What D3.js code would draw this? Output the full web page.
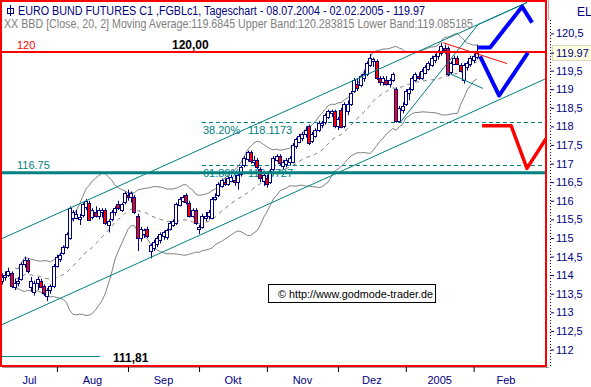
<!DOCTYPE html>
<html>
<head>
<meta charset="utf-8">
<script src="https://cdn.jsdelivr.net/npm/d3@7"></script>
<style>
  body { margin: 0; background: #fff; }
  svg { display: block; font-family: "Liberation Sans", Arial, sans-serif; }
</style>
</head>
<body>
<script>
// daily bars [open, high, low, close], 08.07.2004 - 02.02.2005
const bars = [
  [113.85,114.05,113.75,113.95],[113.95,114.1,113.85,114.0],[114.0,114.2,113.95,114.1],[114.05,114.1,113.65,113.7],
  [113.7,113.9,113.6,113.8],[113.8,113.95,113.7,113.85],[113.9,114.35,113.85,114.3],[114.3,114.5,114.2,114.4],
  [114.4,114.45,114.05,114.1],[113.7,113.95,113.55,113.85],[113.55,113.85,113.45,113.8],[113.8,113.95,113.6,113.9],
  [113.85,113.9,113.65,113.7],[113.7,113.75,113.45,113.5],[113.45,113.65,113.3,113.6],[113.6,113.75,113.5,113.7],
  [113.7,114.3,113.65,114.25],
  // Aug
  [114.25,114.55,114.2,114.5],[114.45,114.6,114.35,114.55],[114.6,114.8,114.55,114.75],[114.75,115.15,114.7,115.1],
  [115.0,115.85,114.95,115.8],[115.55,115.75,115.45,115.7],[115.55,115.75,115.5,115.65],[115.5,115.65,115.35,115.55],
  [115.6,115.95,115.55,115.9],[115.85,116.05,115.75,116.0],[115.95,116.0,115.45,115.5],[115.55,115.8,115.5,115.75],
  [115.7,115.85,115.55,115.6],[115.6,115.8,115.5,115.75],[115.7,115.8,115.55,115.75],[115.75,115.8,115.35,115.4],
  [115.35,115.5,115.15,115.45],[115.5,115.75,115.45,115.7],[115.7,115.85,115.6,115.8],[115.9,116.0,115.75,115.8],
  [115.75,115.95,115.7,115.9],[115.95,116.25,115.9,116.2],
  // Sep
  [116.15,116.3,116.0,116.1],[116.1,116.25,115.95,116.2],[116.1,116.15,115.65,115.7],[115.6,115.65,114.65,115.0],
  [115.0,115.3,114.9,115.25],[115.1,115.25,115.0,115.2],[115.25,115.3,115.0,115.05],[114.65,114.85,114.45,114.8],
  [114.75,114.95,114.65,114.9],[114.85,115.05,114.75,115.0],[114.95,115.15,114.85,115.1],[115.05,115.2,114.95,115.15],
  [115.0,115.25,114.95,115.2],[115.25,115.45,115.2,115.4],[115.35,115.5,115.3,115.45],[115.4,115.95,115.35,115.9],
  [115.9,116.1,115.85,116.05],[116.0,116.15,115.95,116.1],[116.15,116.2,115.9,115.95],[115.95,116.0,115.55,115.6],
  [115.6,115.8,115.55,115.75],[115.75,115.8,115.35,115.4],
  // Okt
  [115.25,115.35,115.1,115.3],[115.3,115.65,115.25,115.6],[115.55,115.7,115.45,115.6],[115.6,115.75,115.5,115.7],
  [115.55,116.1,115.5,116.05],[116.05,116.2,116.0,116.1],[116.15,116.5,116.1,116.45],[116.4,116.6,116.35,116.55],
  [116.5,116.6,116.4,116.45],[116.45,116.65,116.4,116.6],[116.55,116.7,116.5,116.65],[116.55,116.7,116.4,116.5],
  [116.5,116.75,116.3,116.7],[116.7,116.95,116.65,116.9],[116.95,117.2,116.9,117.15],[117.1,117.35,117.05,117.3],
  [117.3,117.35,117.0,117.05],[117.05,117.2,116.95,117.1],[117.1,117.15,116.85,116.9],[116.85,116.9,116.5,116.6],
  [116.55,116.75,116.4,116.7],
  // Nov
  [116.6,116.7,116.35,116.45],[116.5,116.85,116.45,116.8],[116.85,117.2,116.8,117.15],[117.1,117.25,117.05,117.2],
  [117.2,117.25,116.95,117.0],[116.95,117.1,116.85,117.05],[117.0,117.15,116.9,117.1],[117.05,117.2,116.95,117.15],
  [117.05,117.55,117.0,117.5],[117.45,117.7,117.4,117.65],[117.6,117.8,117.55,117.75],[117.7,117.85,117.6,117.8],
  [117.8,118.0,117.7,117.9],[118.0,118.05,117.5,117.55],[117.6,117.85,117.55,117.8],[117.75,117.95,117.7,117.9],
  [117.9,118.15,117.85,118.1],[118.05,118.15,117.95,118.1],[118.1,118.35,118.05,118.3],[118.25,118.45,118.2,118.4],
  [118.35,118.45,118.25,118.4],[118.4,118.45,117.95,118.0],
  // Dez
  [118.0,118.25,117.9,118.2],[118.45,118.5,117.95,118.0],[118.0,118.65,117.95,118.6],[118.4,118.7,118.3,118.6],
  [118.6,118.95,118.55,118.9],[118.95,119.3,118.9,119.25],[119.15,119.3,118.95,119.05],[119.1,119.4,119.05,119.35],
  [119.3,119.5,119.2,119.4],[119.4,119.75,119.35,119.7],[119.65,119.95,119.6,119.85],[119.75,119.85,119.6,119.8],
  [119.75,119.8,119.25,119.3],[119.3,119.35,119.1,119.2],[119.2,119.35,119.1,119.3],[119.25,119.35,119.1,119.15],
  [119.15,119.3,119.05,119.25],[119.25,119.45,119.2,119.4],[119.0,119.05,118.1,118.15],[118.15,118.55,118.1,118.5],
  [118.45,118.65,118.35,118.55],
  // Jan 2005
  [118.6,119.0,118.55,118.95],[118.9,119.05,118.7,119.0],[119.0,119.35,118.95,119.3],[119.25,119.45,119.2,119.4],
  [119.35,119.45,119.25,119.3],[119.3,119.55,119.25,119.5],[119.45,119.65,119.4,119.6],[119.55,119.75,119.5,119.7],
  [119.65,119.9,119.6,119.85],[119.8,119.95,119.7,119.9],[119.9,120.05,119.8,120.0],[119.95,120.25,119.9,120.15],
  [120.1,120.2,119.95,120.05],[120.1,120.15,119.35,119.4],[119.45,119.75,119.4,119.7],[119.7,119.9,119.65,119.85],
  [119.85,119.9,119.65,119.7],[119.65,119.7,119.45,119.5],[119.25,119.7,119.15,119.65],[119.6,119.75,119.5,119.7],
  [119.7,119.9,119.6,119.85],
  // Feb
  [119.8,119.95,119.7,119.9],[119.85,120.2,119.8,119.97]
];

const months = ["Jul", "Aug", "Sep", "Okt", "Nov", "Dez", "2005", "Feb"];
const monthStart = [0, 17, 39, 61, 82, 104, 125, 146, 166]; // bar index of first trading day (last = Mar)
const priceTicks = d3.range(112, 120.51, 0.5).filter(v => v !== 120);
const lastClose = 119.97;

// drawn studies, [bar index, price]
const channelUpper = [[-0.6, 114.96], [162.5, 121.33]];
const channelLower = [[-0.6, 112.645], [168.4, 119.285]];
const steepLine = [[123.2, 118.10], [147.4, 120.74], [162.5, 121.33]];
const flagLine = [[137.8, 119.45], [148.9, 119.02]];
const redTrend = [[136.5, 120.25], [156.3, 119.69]];
const blueUp = [[147.4, 120.12], [151.1, 120.12], [161.0, 121.22], [164.1, 120.79]];
const blueV = [[148.0, 119.88], [153.9, 118.83], [162.8, 119.98]];
const redArrow = [[148.6, 118.02], [157.6, 118.02], [162.5, 116.87], [168.4, 117.67]];
const fibLevels = [{ pct: "38.20%", value: 118.1173 }, { pct: "61.80%", value: 116.9727 }];
const fibStart = 61.9;
const resistance = 120, support = 116.75, lowLevel = 111.81, lowLineEnd = 30.3;

const W = 591, H = 387;
const navy = "#000080", teal = "#008080", red = "#ff0000", gray = "#808080";

const svg = d3.select("body").append("svg").attr("width", W).attr("height", H);

const x = d3.scaleLinear().domain([0, 168.4]).range([2, 546]);
const y = d3.scaleLinear().domain([112, 120]).range([349.5, 52]);

svg.append("defs").append("clipPath").attr("id", "plot")
  .append("rect").attr("x", 2).attr("y", 2).attr("width", 544).attr("height", 364);

const plot = svg.append("g").attr("clip-path", "url(#plot)");

// Bollinger bands 20,2
const closes = bars.map(b => b[3]);
const bb = [];
closes.forEach((c, i) => {
  if (i < 4) return;
  const w = closes.slice(Math.max(0, i - 19), i + 1);
  const m = d3.mean(w);
  const s = Math.sqrt(d3.mean(w, v => (v - m) * (v - m)));
  bb.push({ i: i, m: m, u: m + 2 * s, l: m - 2 * s });
});
const bandLine = key => d3.line().x(d => x(d.i)).y(d => y(d[key]));
plot.append("path").datum(bb).attr("d", bandLine("u")).attr("fill", "none").attr("stroke", gray);
plot.append("path").datum(bb).attr("d", bandLine("l")).attr("fill", "none").attr("stroke", gray);
plot.append("path").datum(bb).attr("d", bandLine("m")).attr("fill", "none").attr("stroke", gray)
  .attr("stroke-dasharray", "4,4");

// fibonacci levels
fibLevels.forEach(f => {
  plot.append("line")
    .attr("x1", x(fibStart)).attr("x2", 546)
    .attr("y1", Math.round(y(f.value)) + 0.5).attr("y2", Math.round(y(f.value)) + 0.5)
    .attr("stroke", teal).attr("stroke-dasharray", "4,3");
  plot.append("text").attr("x", x(fibStart) + 1).attr("y", y(f.value) + 12)
    .attr("fill", teal).style("font-size", "11px").text(f.pct);
  plot.append("text").attr("x", x(fibStart) + 46).attr("y", y(f.value) + 12)
    .attr("fill", teal).style("font-size", "11px").text(f.value.toFixed(4));
});

// candles
const candle = plot.append("g").selectAll("g").data(bars).join("g")
  .attr("transform", (d, i) => "translate(" + Math.round(x(i)) + ",0)");
candle.append("line")
  .attr("x1", 0.5).attr("x2", 0.5)
  .attr("y1", d => y(d[1])).attr("y2", d => y(d[2]))
  .attr("stroke", navy);
candle.append("rect")
  .attr("x", -1.5).attr("width", 3)
  .attr("y", d => Math.round(y(Math.max(d[0], d[3]))) + 0.5)
  .attr("height", d => Math.max(1, Math.round(Math.abs(y(d[0]) - y(d[3])))))
  .attr("fill", d => d[3] >= d[0] ? "#fff" : red)
  .attr("stroke", navy);

// trend lines
const pl = d3.line().x(d => x(d[0])).y(d => y(d[1]));
[channelUpper, channelLower, steepLine, flagLine].forEach(l => {
  plot.append("path").datum(l).attr("d", pl).attr("fill", "none").attr("stroke", teal);
});
plot.append("path").datum(redTrend).attr("d", pl).attr("fill", "none").attr("stroke", red);

// horizontal levels
plot.append("line").attr("x1", 0).attr("x2", 546).attr("y1", y(resistance)).attr("y2", y(resistance))
  .attr("stroke", red).attr("stroke-width", 2);
plot.append("line").attr("x1", 0).attr("x2", 546).attr("y1", y(support)).attr("y2", y(support))
  .attr("stroke", teal).attr("stroke-width", 3);
plot.append("line").attr("x1", 0).attr("x2", x(lowLineEnd)).attr("y1", y(lowLevel)).attr("y2", y(lowLevel))
  .attr("stroke", teal);

// scenario arrows
[blueUp, blueV].forEach(l => {
  plot.append("path").datum(l).attr("d", pl).attr("fill", "none").attr("stroke", "#0000ff")
    .attr("stroke-width", 4).attr("stroke-linejoin", "round");
});
plot.append("path").datum(redArrow).attr("d", pl).attr("fill", "none").attr("stroke", red)
  .attr("stroke-width", 3.5).attr("stroke-linejoin", "round");

// level labels
plot.append("text").attr("x", 17).attr("y", y(resistance) - 3).attr("fill", red)
  .style("font-size", "11px").text("120");
plot.append("text").attr("x", 172).attr("y", y(resistance) - 3).attr("fill", "#000")
  .style("font-size", "12px").style("font-weight", "bold").text("120,00");
plot.append("text").attr("x", 17).attr("y", y(support) - 4).attr("fill", teal)
  .style("font-size", "11px").text("116.75");
plot.append("text").attr("x", 113).attr("y", 362).attr("fill", "#000")
  .style("font-size", "12px").style("font-weight", "bold").text("111,81");

// copyright box
plot.append("rect").attr("x", 268.5).attr("y", 284.5).attr("width", 167).attr("height", 18)
  .attr("fill", "#fff").attr("stroke", "#000");
plot.append("text").attr("x", 278).attr("y", 298).attr("fill", "#000").style("font-size", "11px")
  .attr("textLength", 155).attr("lengthAdjust", "spacingAndGlyphs")
  .text("\u00a9 http://www.godmode-trader.de");

// header
const icon = svg.append("g").attr("stroke", navy).attr("fill", "none");
icon.append("rect").attr("x", 7.5).attr("y", 8.5).attr("width", 6).attr("height", 5);
icon.append("line").attr("x1", 10.5).attr("x2", 10.5).attr("y1", 5).attr("y2", 16);
svg.append("text").attr("x", 18).attr("y", 15).attr("fill", navy).style("font-size", "12px")
  .attr("textLength", 407).attr("lengthAdjust", "spacingAndGlyphs")
  .text("EURO BUND FUTURES C1 ,FGBLc1, Tageschart - 08.07.2004 - 02.02.2005 - 119.97");
svg.append("text").attr("x", 4).attr("y", 28).attr("fill", gray).style("font-size", "12px")
  .attr("textLength", 469).attr("lengthAdjust", "spacingAndGlyphs")
  .text("XX BBD [Close, 20, 2] Moving Average:119.6845 Upper Band:120.283815 Lower Band:119.085185");

// frame
svg.append("line").attr("x1", 2).attr("x2", 549).attr("y1", 367.5).attr("y2", 367.5).attr("stroke", "#a0a0a0");
svg.append("rect").attr("x", 1).attr("y", 1).attr("width", 545).attr("height", 365)
  .attr("fill", "none").attr("stroke", red).attr("stroke-width", 2);

// right price axis
svg.append("line").attr("x1", 548.5).attr("x2", 548.5).attr("y1", 0).attr("y2", 20).attr("stroke", "#b0b0b0");
svg.append("line").attr("x1", 550.5).attr("x2", 550.5).attr("y1", 20).attr("y2", 367)
  .attr("stroke", "#000").attr("stroke-dasharray", "1,2");
svg.append("text").attr("x", 577).attr("y", 16).attr("fill", navy).style("font-size", "12px").text("EL");

const yAxis = svg.append("g").attr("transform", "translate(551,0)")
  .call(d3.axisRight(y).tickValues(priceTicks).tickSize(3).tickPadding(2)
    .tickFormat(d => String(d).replace(".", ",")));
yAxis.select(".domain").remove();
yAxis.selectAll("line").attr("stroke", navy);
yAxis.selectAll("text").attr("fill", navy).style("font-size", "11px")
  .style("font-family", "'Liberation Sans', Arial, sans-serif");

svg.append("rect").attr("x", 552.5).attr("y", Math.round(y(lastClose)) - 7.5).attr("width", 39).attr("height", 15)
  .attr("fill", "#ffffe1").attr("stroke", "#d8d8b8");
svg.append("line").attr("x1", 551).attr("x2", 554).attr("y1", y(lastClose)).attr("y2", y(lastClose)).attr("stroke", navy);
svg.append("text").attr("x", 556).attr("y", y(lastClose)).attr("dy", "0.32em").attr("fill", navy)
  .style("font-size", "11px").text(lastClose.toFixed(2));

// time axis
const xAxis = svg.append("g").attr("transform", "translate(0,367)")
  .call(d3.axisBottom(x).tickValues(monthStart.slice(1, 8)).tickSize(5).tickFormat(""));
xAxis.select(".domain").remove();
xAxis.selectAll("line").attr("stroke", "#000");
svg.append("g").selectAll("text").data(months).join("text")
  .attr("x", (d, i) => (x(monthStart[i]) + x(monthStart[i + 1])) / 2)
  .attr("y", 384).attr("text-anchor", "middle").attr("fill", navy).style("font-size", "11px")
  .text(d => d);
</script>
</body>
</html>
